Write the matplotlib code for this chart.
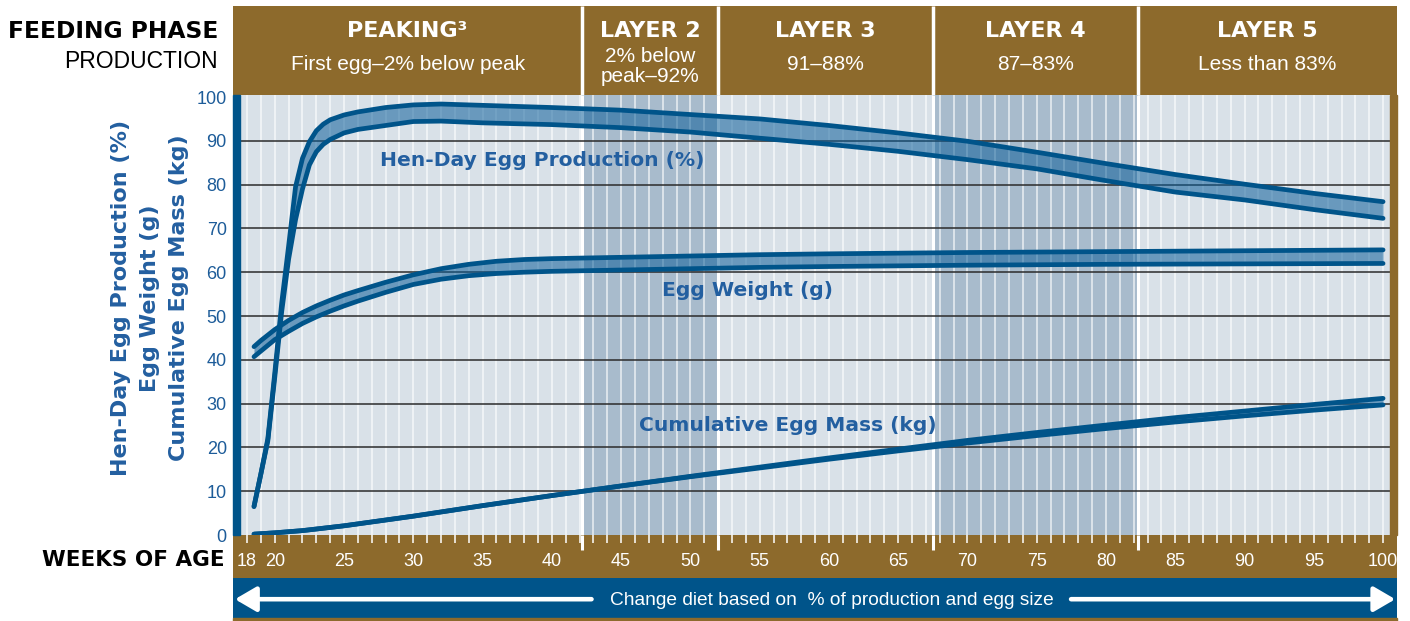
import matplotlib
matplotlib.use('Agg')
import matplotlib.pyplot as plt
from matplotlib.patches import Rectangle
from matplotlib import font_manager
import numpy as np

# ---- data ----
hd_weeks = [18.5, 19, 19.5, 20, 20.5, 21, 21.5, 22, 22.5, 23, 23.5, 24, 25, 26, 28, 30, 32, 35,
            40, 45, 50, 55, 60, 65, 70, 75, 80, 85, 90, 95, 100]
hd_high = [6.5, 14, 22, 37, 53, 66, 79.5, 86, 89.8, 92.3, 93.8, 94.8, 95.9, 96.6, 97.6, 98.2, 98.4, 98.1,
           97.6, 97.0, 96.0, 95.0, 93.5, 91.8, 89.9, 87.4, 84.8, 82.3, 80.1, 78.0, 76.1]
hd_low = [6.5, 14, 21.5, 36, 51, 63, 72, 79, 84.5, 87.5, 89.2, 90.3, 91.8, 92.6, 93.5, 94.4, 94.5, 94.1,
          93.7, 93.0, 92.0, 90.6, 89.2, 87.6, 85.7, 83.6, 80.9, 78.3, 76.5, 74.3, 72.3]

ew_weeks = [18.5, 19, 20, 21, 22, 23, 24, 25, 26, 28, 30, 32, 34, 36, 38, 40, 45, 50, 55, 60, 70, 80, 90, 100]
ew_high = [43.0, 44.4, 46.9, 49.0, 50.8, 52.3, 53.6, 54.8, 55.8, 57.7, 59.4, 60.8, 61.8, 62.5, 62.9, 63.1,
           63.4, 63.7, 64.0, 64.2, 64.5, 64.7, 64.9, 65.1]
ew_low = [40.7, 42.0, 44.6, 46.5, 48.3, 49.8, 51.1, 52.3, 53.4, 55.4, 57.2, 58.4, 59.2, 59.7, 60.0, 60.2,
          60.5, 60.8, 61.1, 61.3, 61.6, 61.8, 61.9, 62.0]

em_weeks = [18.5, 20, 22, 25, 30, 35, 40, 45, 50, 55, 60, 65, 70, 75, 80, 85, 90, 95, 100]
em_high = [0.2, 0.5, 1.0, 2.1, 4.3, 6.7, 9.0, 11.2, 13.4, 15.5, 17.6, 19.6, 21.6, 23.4, 25.1, 26.8, 28.3, 29.8, 31.2]
em_low = [0.2, 0.5, 1.0, 2.1, 4.3, 6.7, 9.0, 11.2, 13.3, 15.3, 17.3, 19.2, 21.0, 22.7, 24.3, 25.8, 27.2, 28.5, 29.7]

phase_names = ['PEAKING³', 'LAYER 2', 'LAYER 3', 'LAYER 4', 'LAYER 5']
phase_notes = ['First egg–2% below peak', '2% below\npeak–92%', '91–88%', '87–83%', 'Less than 83%']
phase_edges = [42.2, 52, 67.5, 82.3]
shaded_phases = [1, 3]

week_ticks = [18, 20, 25, 30, 35, 40, 45, 50, 55, 60, 65, 70, 75, 80, 85, 90, 95, 100]
pct_ticks = list(range(0, 101, 10))

# ---- look ----
BROWN = '#8d6a2c'
NAVY = '#00548a'
LIGHT = '#d9e1e8'
SHADE = '#a8bbcc'
TXT_BLUE = '#235fa0'

names = {f.name for f in font_manager.fontManager.ttflist}
NARROW = 'Liberation Sans Narrow' if 'Liberation Sans Narrow' in names else 'Liberation Sans'
note_size = 18 if NARROW == 'Liberation Sans Narrow' else 15

plt.rcParams['font.family'] = ['Liberation Sans', 'DejaVu Sans']

W, H = 1410, 621


def box(l, t, r, b):
    return [l / W, 1 - b / H, (r - l) / W, (b - t) / H]


fig = plt.figure(figsize=(W / 100, H / 100), dpi=100)
fig.patch.set_facecolor('white')

x0, x1 = 17.49, 100.5
k = 1150 / (x1 - x0)          # pixels per week
hx0, hx1 = x0 - 7 / k, x1 + 7 / k

# bottom band with week numbers
bot = fig.add_axes(box(233, 535, 1397, 578))
bot.set_facecolor(BROWN)
bot.set_xlim(hx0, hx1)
bot.set_ylim(0, 1)
bot.set_xticks([]); bot.set_yticks([])
for s in bot.spines.values():
    s.set_visible(False)
bot.vlines(phase_edges, 0.65, 1, color='white', lw=2.2)

# header band
hdr = fig.add_axes(box(233, 6, 1397, 95))
hdr.set_facecolor(BROWN)
hdr.set_xlim(hx0, hx1)
hdr.set_ylim(95, 6)
hdr.set_xticks([]); hdr.set_yticks([])
for s in hdr.spines.values():
    s.set_visible(False)
hdr.vlines(phase_edges, 6, 95, color='white', lw=2.5)
lo = [hx0] + phase_edges
hi = phase_edges + [hx1]
for i, (name, note) in enumerate(zip(phase_names, phase_notes)):
    cx = (lo[i] + hi[i]) / 2
    hdr.text(cx, 31, name, ha='center', va='center', color='white', fontsize=16,
             fontweight='bold', family='DejaVu Sans')
    ny = 66.5 if '\n' in note else 65
    hdr.text(cx, ny, note, ha='center', va='center', color='white', fontsize=note_size,
             family=[NARROW, 'DejaVu Sans'], linespacing=1.05)

# footer band
foot = fig.add_axes(box(233, 578, 1397, 618))
foot.set_facecolor(NAVY)
foot.set_xlim(0, 1)
foot.set_ylim(0, 1)
foot.set_xticks([]); foot.set_yticks([])
for s in foot.spines.values():
    s.set_visible(False)
foot.text(0.5146, 0.43, 'Change diet based on  % of production and egg size', ha='center', va='center',
          color='white', fontsize=note_size - 1.2, family=[NARROW, 'DejaVu Sans'])
arrow = dict(arrowstyle='-|>,head_length=0.65,head_width=0.38', color='white', lw=3.3,
             mutation_scale=20, shrinkA=0, shrinkB=0)
foot.annotate('', xy=(0.0017, 0.47), xytext=(0.308, 0.47), arrowprops=arrow)
foot.annotate('', xy=(0.9985, 0.47), xytext=(0.72, 0.47), arrowprops=arrow)
fig.add_artist(Rectangle((233 / W, 1 - 621 / H), 1164 / W, 3 / H, color=BROWN,
                         transform=fig.transFigure))

# main plot
ax = fig.add_axes(box(240, 95, 1390, 535))
ax.set_facecolor(LIGHT)
ax.set_xlim(x0, x1)
ax.set_ylim(0, 100.46)
for s in ax.spines.values():
    s.set_visible(False)

pl = [x0] + phase_edges
ph = phase_edges + [x1]
for i in shaded_phases:
    ax.axvspan(pl[i], ph[i], color=SHADE, lw=0, zorder=0)
ax.vlines(np.arange(18, 101), 0, 100.46, color='white', lw=1.1, alpha=0.75, zorder=1)
ax.vlines(phase_edges, 0, 100.46, color='white', lw=2.2, zorder=1)
ax.hlines(pct_ticks[1:-1], x0, x1, color='#2b2b2b', lw=1.1, zorder=2)

for wk, high, low in [(hd_weeks, hd_high, hd_low), (ew_weeks, ew_high, ew_low), (em_weeks, em_high, em_low)]:
    ax.fill_between(wk, low, high, color='#0d5f9a', alpha=0.55, lw=0, zorder=3)
    ax.plot(wk, high, color=NAVY, lw=3.4, solid_capstyle='round', solid_joinstyle='round', zorder=4)
    ax.plot(wk, low, color=NAVY, lw=3.4, solid_capstyle='round', solid_joinstyle='round', zorder=4)

lab = dict(color=TXT_BLUE, fontsize=14.6, fontweight='bold', family='DejaVu Sans',
           ha='center', va='center', zorder=5)
ax.text(39.3, 85.6, 'Hen-Day Egg Production (%)', **lab)
ax.text(54.1, 55.9, 'Egg Weight (g)', **lab)
ax.text(57.05, 25.1, 'Cumulative Egg Mass (kg)', **lab)

ax.set_xticks(week_ticks)
ax.set_xticks(np.arange(18, 101), minor=True)
ax.tick_params(axis='x', which='both', direction='out', length=5.5, width=1.1, color='white',
               labelcolor='white', labelsize=13, pad=7.5)
ax.set_yticks(pct_ticks)
ax.tick_params(axis='y', length=0, pad=9.5, labelcolor='#1d5c99', labelsize=13)

# blue bar at left, brown edge at right
fig.add_artist(Rectangle((233 / W, 1 - 535 / H), 7 / W, 440 / H, color=NAVY, transform=fig.transFigure))
fig.add_artist(Rectangle((1390 / W, 1 - 535 / H), 7 / W, 440 / H, color=BROWN, transform=fig.transFigure))

# side labels
fig.text(218 / W, 1 - 32 / H, 'FEEDING PHASE', ha='right', va='center', fontsize=16.8,
         fontweight='bold', family='DejaVu Sans', color='black')
fig.text(218 / W, 1 - 62 / H, 'PRODUCTION', ha='right', va='center', fontsize=16.5, color='black')
fig.text(225 / W, 1 - 560 / H, 'WEEKS OF AGE', ha='right', va='center', fontsize=15.5,
         fontweight='bold', family='DejaVu Sans', color='black')

ylab = dict(rotation=90, ha='center', va='center', fontsize=16, fontweight='bold',
            family='DejaVu Sans', color=TXT_BLUE)
fig.text(121 / W, 1 - 298 / H, 'Hen-Day Egg Production (%)', **ylab)
fig.text(150 / W, 1 - 298 / H, 'Egg Weight (g)', **ylab)
fig.text(179 / W, 1 - 298 / H, 'Cumulative Egg Mass (kg)', **ylab)

fig.savefig('out.png', dpi=100)
